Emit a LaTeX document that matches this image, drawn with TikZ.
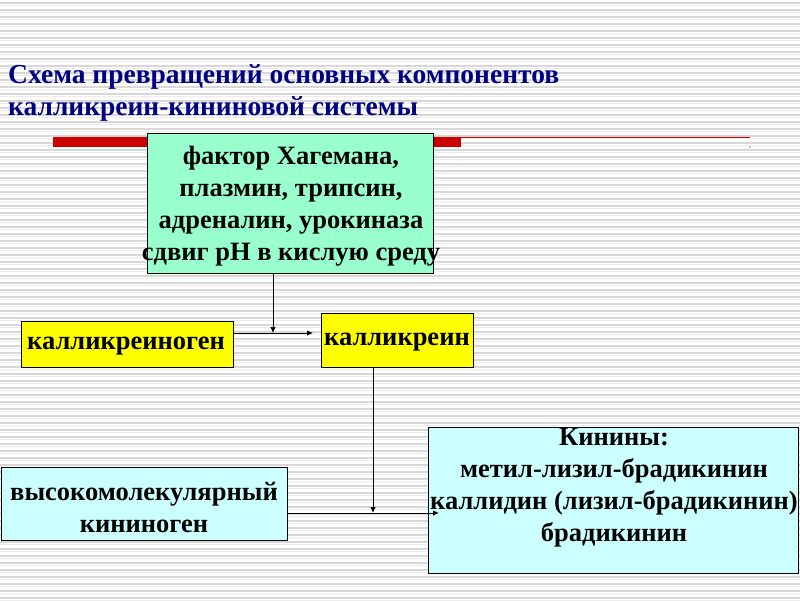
\documentclass[tikz,border=0pt]{standalone}
\usepackage{fontspec}
\setmainfont{Liberation Serif}
\usetikzlibrary{arrows.meta}
\definecolor{titleblue}{RGB}{0,0,128}
\definecolor{redbar}{RGB}{204,0,0}
\definecolor{greenbox}{RGB}{153,255,204}
\definecolor{cyanbox}{RGB}{204,255,255}
\definecolor{ybox}{RGB}{255,255,0}
\definecolor{bgline}{RGB}{216,216,216}
\definecolor{bgline2}{RGB}{236,236,236}
\tikzset{
  box/.style={draw=black, line width=0.8pt, inner sep=0pt, anchor=north west},
  lbl/.style={font=\bfseries\fontsize{26.5}{32}\selectfont, align=center, inner sep=0pt},
  conn/.style={line width=0.8pt, -{Latex[length=6pt,width=5.5pt]}},
  plain/.style={line width=0.8pt}
}
\begin{document}
\begin{tikzpicture}[x=1pt,y=-1pt]
\useasboundingbox (0,0) rectangle (800,600);
\fill[white] (0,0) rectangle (800,600);
\foreach \k in {0,...,85} {
  \draw[bgline, line width=1.2pt] (0,{7*\k+3}) -- (800,{7*\k+3});
  \draw[bgline2, line width=1pt] (0,{7*\k+5}) -- (800,{7*\k+5});
}
% title
\node[anchor=west, inner sep=0pt, text=titleblue, font=\bfseries\fontsize{27.5}{32}\selectfont, align=left] (title) at (8,93) {Схема превращений основных компонентов\\калликреин-кининовой системы};
% red bars
\fill[redbar] (53,137) rectangle (461,147);
\fill[redbar] (461,136.5) rectangle (750,138);
\fill[black] (750,147) circle (0.6pt);
% boxes
\node[box, fill=greenbox, minimum width=286pt, minimum height=140pt] (fbox) at (147,133) {};
\node[lbl] (ftext) at (291,206) {фактор Хагемана,\\плазмин, трипсин,\\адреналин, урокиназа\\сдвиг pH в кислую среду};
\node[box, fill=ybox, minimum width=212pt, minimum height=46pt] (kgbox) at (21,321) {};
\node[lbl] (kgtext) at (126,346) {калликреиноген};
\node[box, fill=ybox, minimum width=152pt, minimum height=54pt] (kbox) at (321,313) {};
\node[lbl] (ktext) at (397,342) {калликреин};
\node[box, fill=cyanbox, minimum width=286pt, minimum height=73pt] (hbox) at (1,467) {};
\node[lbl] (htext) at (144,507) {высокомолекулярный\\кининоген};
\node[box, fill=cyanbox, minimum width=370pt, minimum height=146pt] (kinbox) at (428,427) {};
\node[lbl] (kintext) at (614,488) {Кинины:\\метил-лизил-брадикинин\\каллидин (лизил-брадикинин)\\брадикинин};
% connectors
\coordinate (j1) at (273,333);
\coordinate (a1) at (313,333);
\coordinate (j2) at (373,513);
\coordinate (a2) at (439,513);
\draw[plain] (kgbox.east |- j1) -- (j1);
\draw[conn] (j1) -- (a1);
\draw[conn] (fbox.south -| j1) -- (j1);
\draw[conn] (kbox.south -| j2) -- (j2);
\draw[plain] (hbox.east |- j2) -- (j2);
\draw[conn] (j2) -- (a2);
\end{tikzpicture}
\end{document}
